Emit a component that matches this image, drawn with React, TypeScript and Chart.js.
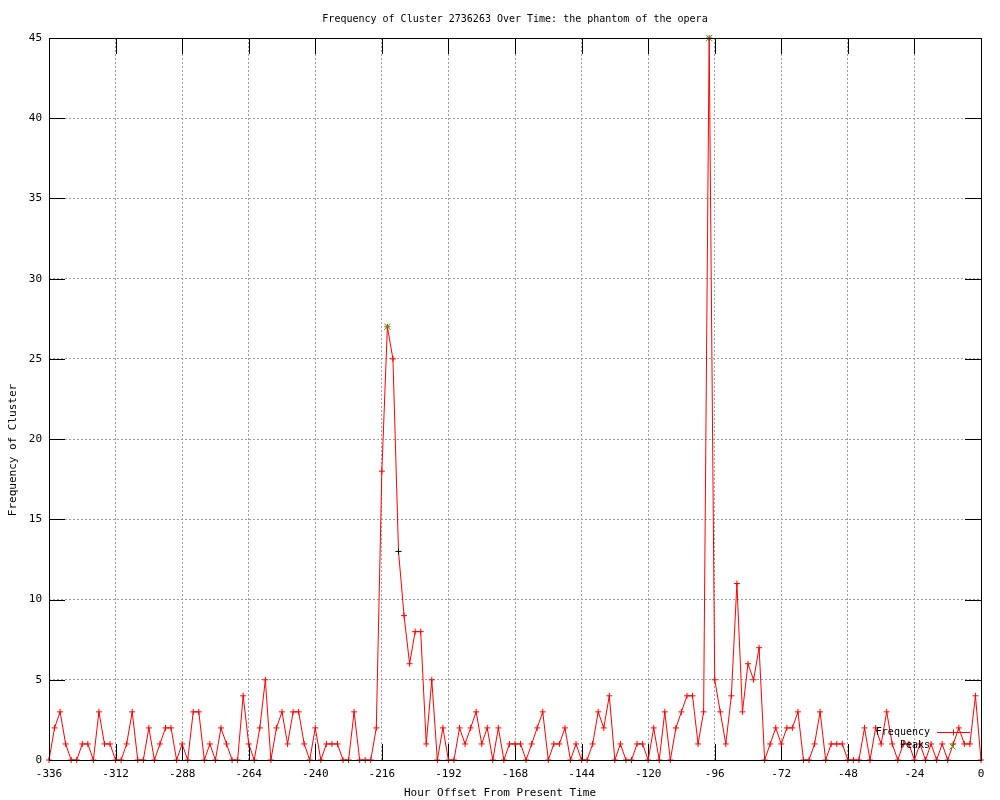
import React, { useEffect, useRef } from "react";
import { Chart, registerables } from "chart.js";

Chart.register(...registerables);

const TITLE = "Frequency of Cluster 2736263 Over Time: the phantom of the opera";
const X_LABEL = "Hour Offset From Present Time";
const Y_LABEL = "Frequency of Cluster";
const SERIES_LABELS = ["Frequency", "Peaks"];

const HOURS = [
  -336, -334, -332, -330, -328, -326, -324, -322, -320, -318, -316, -314,
  -312, -310, -308, -306, -304, -302, -300, -298, -296, -294, -292, -290,
  -288, -286, -284, -282, -280, -278, -276, -274, -272, -270, -268, -266,
  -264, -262, -260, -258, -256, -254, -252, -250, -248, -246, -244, -242,
  -240, -238, -236, -234, -232, -230, -228, -226, -224, -222, -220, -218,
  -216, -214, -212, -210, -208, -206, -204, -202, -200, -198, -196, -194,
  -192, -190, -188, -186, -184, -182, -180, -178, -176, -174, -172, -170,
  -168, -166, -164, -162, -160, -158, -156, -154, -152, -150, -148, -146,
  -144, -142, -140, -138, -136, -134, -132, -130, -128, -126, -124, -122,
  -120, -118, -116, -114, -112, -110, -108, -106, -104, -102, -100, -98,
  -96, -94, -92, -90, -88, -86, -84, -82, -80, -78, -76, -74,
  -72, -70, -68, -66, -64, -62, -60, -58, -56, -54, -52, -50,
  -48, -46, -44, -42, -40, -38, -36, -34, -32, -30, -28, -26,
  -24, -22, -20, -18, -16, -14, -12, -10, -8, -6, -4, -2,
  0,
];

const FREQUENCY = [
  0, 2, 3, 1, 0, 0, 1, 1, 0, 3, 1, 1,
  0, 0, 1, 3, 0, 0, 2, 0, 1, 2, 2, 0,
  1, 0, 3, 3, 0, 1, 0, 2, 1, 0, 0, 4,
  1, 0, 2, 5, 0, 2, 3, 1, 3, 3, 1, 0,
  2, 0, 1, 1, 1, 0, 0, 3, 0, 0, 0, 2,
  18, 27, 25, 13, 9, 6, 8, 8, 1, 5, 0, 2,
  0, 0, 2, 1, 2, 3, 1, 2, 0, 2, 0, 1,
  1, 1, 0, 1, 2, 3, 0, 1, 1, 2, 0, 1,
  0, 0, 1, 3, 2, 4, 0, 1, 0, 0, 1, 1,
  0, 2, 0, 3, 0, 2, 3, 4, 4, 1, 3, 45,
  5, 3, 1, 4, 11, 3, 6, 5, 7, 0, 1, 2,
  1, 2, 2, 3, 0, 0, 1, 3, 0, 1, 1, 1,
  0, 0, 0, 2, 0, 2, 1, 3, 1, 0, 1, 1,
  0, 1, 0, 1, 0, 1, 0, 1, 2, 1, 1, 4,
  0,
];

const PEAK_HOURS = [-214, -98];
const PEAK_VALUES = [27, 45];

const X_TICKS = [-336, -312, -288, -264, -240, -216, -192, -168, -144, -120, -96, -72, -48, -24, 0];
const Y_TICKS = [0, 5, 10, 15, 20, 25, 30, 35, 40, 45];

const DARK_MARKER_HOURS = [-210];

const FONT = "'DejaVu Sans Mono', 'Liberation Mono', monospace";
const RED = "#ff0000";
const GREEN = "#00c000";

const decorPlugin = {
  id: "decor",
  beforeDatasetsDraw(chart: any) {
    const { ctx, chartArea, scales } = chart;
    const { left, right, top, bottom } = chartArea;
    ctx.save();
    ctx.strokeStyle = "#000";
    ctx.lineWidth = 1;
    ctx.beginPath();
    const L = 16;
    for (const v of Y_TICKS) {
      const y = Math.round(scales.y.getPixelForValue(v)) + 0.5;
      ctx.moveTo(left, y);
      ctx.lineTo(left + L, y);
      ctx.moveTo(right, y);
      ctx.lineTo(right - L, y);
    }
    for (const v of X_TICKS) {
      const x = Math.round(scales.x.getPixelForValue(v)) + 0.5;
      ctx.moveTo(x, bottom);
      ctx.lineTo(x, bottom - L);
      ctx.moveTo(x, top);
      ctx.lineTo(x, top + L);
    }
    ctx.stroke();
    ctx.restore();
  },
  afterDatasetsDraw(chart: any) {
    const { ctx, chartArea } = chart;
    const { left, right, top, bottom } = chartArea;
    ctx.save();
    ctx.strokeStyle = "#000";
    ctx.lineWidth = 1;
    ctx.strokeRect(Math.round(left) + 0.5, Math.round(top) + 0.5, Math.round(right - left), Math.round(bottom - top));

    // key (legend), bottom right inside the plot
    ctx.font = `10px ${FONT}`;
    ctx.fillStyle = "#000";
    ctx.textAlign = "right";
    ctx.textBaseline = "middle";
    const textX = right - 51;
    const y1 = bottom - 28;
    const y2 = bottom - 14.5;
    ctx.fillText(SERIES_LABELS[0], textX, y1);
    ctx.fillText(SERIES_LABELS[1], textX, y2);
    // Frequency sample
    ctx.strokeStyle = RED;
    ctx.beginPath();
    ctx.moveTo(right - 44, Math.round(y1) + 0.5);
    ctx.lineTo(right - 11, Math.round(y1) + 0.5);
    const mx = right - 27.5;
    const my = Math.round(y1) + 0.5;
    ctx.moveTo(mx - 3, my);
    ctx.lineTo(mx + 3, my);
    ctx.moveTo(mx, my - 3);
    ctx.lineTo(mx, my + 3);
    ctx.stroke();
    // Peaks sample
    ctx.strokeStyle = GREEN;
    ctx.beginPath();
    const px = right - 28.5;
    const py = Math.round(y2) + 0.5;
    ctx.moveTo(px - 3, py - 3);
    ctx.lineTo(px + 3, py + 3);
    ctx.moveTo(px - 3, py + 3);
    ctx.lineTo(px + 3, py - 3);
    ctx.stroke();
    ctx.restore();
  },
  afterDraw(chart: any) {
    const { ctx, chartArea } = chart;
    ctx.save();
    ctx.fillStyle = "#000";
    ctx.textAlign = "center";
    ctx.font = `10px ${FONT}`;
    ctx.textBaseline = "alphabetic";
    ctx.fillText(TITLE, (chartArea.left + chartArea.right) / 2, 22);
    ctx.font = `11px ${FONT}`;
    ctx.textBaseline = "middle";
    ctx.fillText(X_LABEL, 500, 793);
    ctx.translate(13, 450);
    ctx.rotate(-Math.PI / 2);
    ctx.fillText(Y_LABEL, 0, 0);
    ctx.restore();
  },
};

export default function App() {
  const canvasRef = useRef<HTMLCanvasElement | null>(null);

  useEffect(() => {
    const canvas = canvasRef.current;
    if (!canvas) return;
    const freqData = HOURS.map((h, i) => ({ x: h, y: FREQUENCY[i] }));
    const peakData = PEAK_HOURS.map((h, i) => ({ x: h, y: PEAK_VALUES[i] }));
    const markerColors = HOURS.map((h) => (DARK_MARKER_HOURS.includes(h) ? "#000" : RED));

    const chart = new Chart(canvas, {
      type: "line",
      data: {
        datasets: [
          {
            label: SERIES_LABELS[0],
            data: freqData,
            borderColor: RED,
            backgroundColor: RED,
            borderWidth: 1,
            pointStyle: "cross",
            pointRadius: 3,
            pointBorderWidth: 1,
            pointBorderColor: markerColors,
            pointBackgroundColor: markerColors,
            tension: 0,
            fill: false,
            clip: false as any,
            order: 1,
          },
          {
            label: SERIES_LABELS[1],
            data: peakData,
            showLine: false,
            borderColor: GREEN,
            backgroundColor: GREEN,
            pointStyle: "crossRot",
            pointRadius: 4.5,
            pointBorderWidth: 1,
            clip: false as any,
            order: 0,
          },
        ],
      },
      options: {
        responsive: false,
        animation: false,
        devicePixelRatio: 1,
        layout: { padding: { left: 0, right: 19, top: 38, bottom: 0 } },
        plugins: {
          legend: { display: false },
          title: { display: false },
          tooltip: { enabled: false },
        },
        elements: { line: { borderWidth: 1 } },
        scales: {
          x: {
            type: "linear",
            min: -336,
            max: 0,
            afterBuildTicks: (scale: any) => {
              scale.ticks = X_TICKS.map((v) => ({ value: v }));
            },
            afterFit: (scale: any) => {
              scale.height = 40;
            },
            grid: { color: "#a0a0a0", lineWidth: 1, drawTicks: false },
            border: { display: false, dash: [2, 2] },
            ticks: {
              padding: 8,
              color: "#000",
              maxRotation: 0,
              autoSkip: false,
              font: { family: FONT, size: 11 },
              callback: (v: any) => String(v),
            },
          },
          y: {
            type: "linear",
            min: 0,
            max: 45,
            afterBuildTicks: (scale: any) => {
              scale.ticks = Y_TICKS.map((v) => ({ value: v }));
            },
            afterFit: (scale: any) => {
              scale.width = 49;
            },
            grid: { color: "#a0a0a0", lineWidth: 1, drawTicks: false },
            border: { display: false, dash: [2, 2] },
            ticks: {
              padding: 7,
              color: "#000",
              autoSkip: false,
              font: { family: FONT, size: 11 },
              callback: (v: any) => String(v),
            },
          },
        },
      },
      plugins: [decorPlugin],
    });

    return () => chart.destroy();
  }, []);

  return (
    <div style={{ position: "fixed", left: 0, top: 0, width: 1000, height: 800, background: "#fff" }}>
      <canvas ref={canvasRef} width={1000} height={800} style={{ display: "block", width: 1000, height: 800 }} />
    </div>
  );
}
